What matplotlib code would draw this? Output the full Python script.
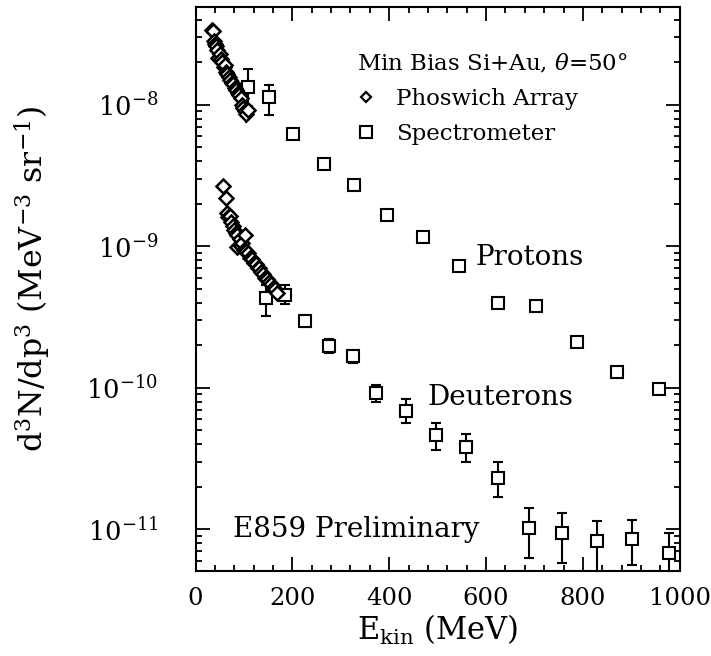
import numpy as np
import matplotlib
matplotlib.use("Agg")
import matplotlib.pyplot as plt
from matplotlib.lines import Line2D
from matplotlib.ticker import LogLocator, MultipleLocator, NullFormatter

plt.rcParams['font.family'] = 'DejaVu Serif'
plt.rcParams['mathtext.fontset'] = 'dejavuserif'

# proton spectra, phoswich array (diamonds)
p_phos_e = [33, 37, 39, 41, 43, 45, 47, 50, 53, 55, 58, 61, 63, 66, 69, 72,
            75, 78, 81, 84, 87, 90, 93, 96, 99, 102, 105, 108]
p_phos_y = [3.4e-8, 3.35e-8, 2.85e-8, 2.7e-8, 2.6e-8, 2.45e-8, 2.15e-8, 2.3e-8,
            2.1e-8, 2.0e-8, 1.85e-8, 1.9e-8, 1.72e-8, 1.65e-8, 1.58e-8, 1.5e-8,
            1.42e-8, 1.4e-8, 1.32e-8, 1.28e-8, 1.22e-8, 1.18e-8, 1.12e-8, 1.0e-8,
            9.5e-9, 9.0e-9, 8.6e-9, 9.2e-9]
p_phos_rel = [0.04, 0.04, 0.04, 0.04, 0.04, 0.04, 0.04, 0.04, 0.05, 0.05, 0.05,
              0.05, 0.05, 0.05, 0.05, 0.05, 0.06, 0.06, 0.06, 0.06, 0.06, 0.07,
              0.12, 0.07, 0.08, 0.08, 0.14, 0.08]

# proton spectra, spectrometer (squares)
p_spec_e = [108.6, 151, 201, 264.5, 327, 396, 469, 545, 625, 704, 787, 871, 957]
p_spec_y = [1.33e-8, 1.13e-8, 6.24e-9, 3.84e-9, 2.70e-9, 1.67e-9, 1.16e-9,
            7.23e-10, 3.98e-10, 3.78e-10, 2.10e-10, 1.29e-10, 9.75e-11]
p_spec_lo = [9.8e-9, 8.5e-9, 5.7e-9, 3.6e-9, 2.55e-9, 1.58e-9, 1.08e-9,
             6.7e-10, 3.7e-10, 3.5e-10, 1.95e-10, 1.18e-10, 9.0e-11]
p_spec_hi = [1.78e-8, 1.38e-8, 6.8e-9, 4.1e-9, 2.85e-9, 1.76e-9, 1.25e-9,
             7.8e-10, 4.3e-10, 4.05e-10, 2.27e-10, 1.40e-10, 1.06e-10]

# deuteron spectra, phoswich array
d_phos_e = [57, 63, 66, 68, 71, 74, 77, 80, 83, 85, 86, 91, 94, 97, 100, 102,
            104, 108, 112, 116, 120, 124, 128, 132, 136, 140, 144, 148, 152,
            156, 160, 164, 168]
d_phos_y = [2.65e-9, 2.2e-9, 1.72e-9, 1.6e-9, 1.65e-9, 1.48e-9, 1.4e-9, 1.3e-9,
            1.25e-9, 9.9e-10, 1.2e-9, 1.12e-9, 1.0e-9, 1.05e-9, 9.5e-10, 1.21e-9,
            9.2e-10, 9.0e-10, 8.3e-10, 8.1e-10, 7.6e-10, 7.5e-10, 7.0e-10,
            7.0e-10, 6.6e-10, 6.4e-10, 6.0e-10, 5.9e-10, 5.6e-10, 5.4e-10,
            5.1e-10, 5.0e-10, 4.7e-10]
d_phos_rel = [0.05, 0.05, 0.05, 0.05, 0.05, 0.05, 0.06, 0.06, 0.06, 0.06, 0.06,
              0.07, 0.12, 0.07, 0.07, 0.07, 0.08, 0.08, 0.08, 0.08, 0.09, 0.09,
              0.09, 0.1, 0.1, 0.1, 0.1, 0.1, 0.11, 0.11, 0.12, 0.12, 0.13]

# deuteron spectra, spectrometer
d_spec_e = [146, 185.6, 227, 275, 326, 373, 435, 497, 559, 624, 689, 756, 830,
            902, 978]
d_spec_y = [4.33e-10, 4.56e-10, 2.96e-10, 1.97e-10, 1.68e-10, 9.2e-11, 6.85e-11,
            4.68e-11, 3.83e-11, 2.32e-11, 1.03e-11, 9.47e-12, 8.27e-12, 8.6e-12,
            6.84e-12]
d_spec_lo = [3.2e-10, 3.89e-10, 2.7e-10, 1.75e-10, 1.5e-10, 7.9e-11, 5.66e-11,
             3.63e-11, 2.99e-11, 1.70e-11, 6.31e-12, 5.82e-12, 4.8e-12, 5.57e-12,
             4.5e-12]
d_spec_hi = [5.3e-10, 5.37e-10, 3.25e-10, 2.2e-10, 1.85e-10, 1.05e-10, 8.28e-11,
             5.6e-11, 4.69e-11, 2.99e-11, 1.42e-11, 1.30e-11, 1.15e-11, 1.16e-11,
             9.47e-12]

fig = plt.figure(figsize=(7.11, 6.56), dpi=100)
ax = fig.add_axes([0.275, 0.13, 0.681, 0.859])

dia = dict(fmt='D', ms=7.2, mfc='white', mec='black', mew=1.8, ecolor='black',
           elinewidth=1.4, capsize=0, zorder=3)
sq = dict(fmt='s', ms=9, mfc='white', mec='black', mew=1.5, ecolor='black',
          elinewidth=1.5, capsize=3.8, capthick=1.5, zorder=2)

ax.errorbar(p_phos_e, p_phos_y, yerr=np.array(p_phos_y) * np.array(p_phos_rel), **dia)
ax.errorbar(d_phos_e, d_phos_y, yerr=np.array(d_phos_y) * np.array(d_phos_rel), **dia)

for e, y, lo, hi in [(p_spec_e, p_spec_y, p_spec_lo, p_spec_hi),
                     (d_spec_e, d_spec_y, d_spec_lo, d_spec_hi)]:
    y = np.array(y)
    err = [y - np.array(lo), np.array(hi) - y]
    ax.errorbar(e, y, yerr=err, **sq)

ax.set_yscale('log')
ax.set_xlim(0, 1000)
ax.set_ylim(5.1e-12, 4.9e-8)

ax.xaxis.set_major_locator(MultipleLocator(200))
ax.xaxis.set_minor_locator(MultipleLocator(40))
ax.yaxis.set_major_locator(LogLocator(base=10))
ax.yaxis.set_minor_locator(LogLocator(base=10, subs=np.arange(2, 10)))
ax.yaxis.set_minor_formatter(NullFormatter())

ax.tick_params(which='both', direction='in', top=True, right=True, width=1.3)
ax.tick_params(which='major', length=10)
ax.tick_params(which='minor', length=4.5)
ax.tick_params(axis='x', which='major', labelsize=17.5, pad=12)
ax.tick_params(axis='y', which='major', labelsize=18.5, pad=27)
for s in ax.spines.values():
    s.set_linewidth(1.5)

ax.set_xlabel(r'$\mathrm{E_{kin}}$ (MeV)', fontsize=22, labelpad=2)
ax.set_ylabel(r'$\mathrm{d^3N/dp^3\ (MeV^{-3}\ sr^{-1})}$', fontsize=22.8,
              labelpad=24, y=0.518)

ax.text(579, 8.4e-10, 'Protons', fontsize=20, va='center', ha='left')
ax.text(480, 8.5e-11, 'Deuterons', fontsize=20, va='center', ha='left')
ax.text(78, 1.0e-11, 'E859 Preliminary', fontsize=20, va='center', ha='left')

handles = [Line2D([], [], ls='none', marker='D', ms=5.5, mfc='white', mec='black', mew=1.6),
           Line2D([], [], ls='none', marker='s', ms=8, mfc='white', mec='black', mew=1.5)]
leg = ax.legend(handles, ['Phoswich Array', 'Spectrometer'],
                title=r'Min Bias Si+Au, $\theta$=50$\degree$', title_fontsize=16.5,
                fontsize=16.5, frameon=False, loc='upper left',
                bbox_to_anchor=(0.31, 0.94), handlelength=0.8, handletextpad=0.9,
                labelspacing=0.55, alignment='left', borderpad=0)

fig.savefig('out.png', dpi=100)
